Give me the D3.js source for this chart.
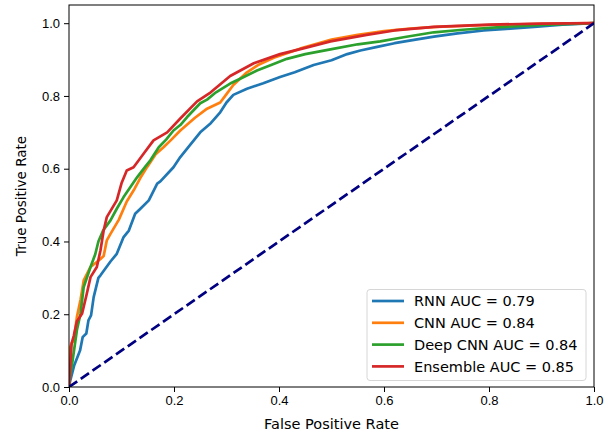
<!DOCTYPE html>
<html>
<head>
<meta charset="utf-8">
<script src="https://cdnjs.cloudflare.com/ajax/libs/d3/7.8.5/d3.min.js"></script>
<style>
  body { margin: 0; background: #fff; }
  svg { font-family: "DejaVu Sans", sans-serif; }
  .axis text { font-size: 13px; fill: #000; }
  .axis line, .axis path { stroke: #000; }
</style>
</head>
<body>
<svg id="roc" width="611" height="434"></svg>
<script>
// ROC curves: [fpr, tpr]
const rnn = [[0,0],[0.001,0.01],[0.01,0.06],[0.021,0.10],[0.026,0.137],[0.033,0.147],[0.037,0.183],
  [0.042,0.197],[0.047,0.247],[0.056,0.30],[0.060,0.307],[0.079,0.345],[0.091,0.366],[0.104,0.412],
  [0.114,0.43],[0.126,0.476],[0.136,0.49],[0.152,0.513],[0.168,0.559],[0.174,0.565],[0.199,0.604],
  [0.212,0.632],[0.225,0.655],[0.25,0.70],[0.27,0.725],[0.288,0.755],[0.30,0.782],[0.313,0.803],
  [0.339,0.82],[0.37,0.835],[0.402,0.852],[0.43,0.865],[0.466,0.885],[0.50,0.898],[0.53,0.915],
  [0.555,0.925],[0.587,0.935],[0.62,0.945],[0.66,0.955],[0.695,0.963],[0.74,0.972],[0.79,0.98],
  [0.84,0.985],[0.886,0.99],[0.94,0.996],[1,1]];
const cnn = [[0,0],[0,0.10],[0.005,0.12],[0.009,0.128],[0.015,0.192],[0.022,0.24],[0.028,0.293],
  [0.041,0.33],[0.06,0.352],[0.066,0.36],[0.072,0.403],[0.079,0.421],[0.095,0.46],[0.11,0.51],
  [0.125,0.545],[0.136,0.575],[0.149,0.605],[0.165,0.64],[0.18,0.659],[0.195,0.68],[0.212,0.705],
  [0.24,0.74],[0.263,0.765],[0.288,0.782],[0.30,0.805],[0.313,0.83],[0.339,0.865],[0.36,0.885],
  [0.39,0.905],[0.44,0.93],[0.50,0.955],[0.55,0.968],[0.60,0.978],[0.65,0.985],[0.70,0.99],
  [0.80,0.995],[0.90,0.998],[1,1]];
const deepCnn = [[0,0],[0.002,0.03],[0.006,0.064],[0.015,0.156],[0.022,0.202],[0.028,0.275],
  [0.041,0.33],[0.05,0.365],[0.056,0.40],[0.065,0.43],[0.079,0.458],[0.091,0.49],[0.104,0.522],
  [0.117,0.55],[0.13,0.577],[0.145,0.605],[0.155,0.623],[0.171,0.659],[0.185,0.68],[0.199,0.705],
  [0.212,0.72],[0.225,0.742],[0.25,0.78],[0.263,0.79],[0.28,0.81],[0.307,0.834],[0.33,0.85],
  [0.358,0.87],[0.385,0.885],[0.415,0.902],[0.45,0.915],[0.498,0.928],[0.55,0.942],[0.593,0.95],
  [0.64,0.962],[0.695,0.975],[0.75,0.982],[0.821,0.989],[0.9,0.995],[1,1]];
const ensemble = [[0,0],[0.002,0.05],[0.005,0.12],[0.009,0.14],[0.015,0.18],[0.025,0.202],
  [0.034,0.257],[0.041,0.302],[0.053,0.33],[0.06,0.376],[0.066,0.43],[0.072,0.467],[0.091,0.513],
  [0.10,0.56],[0.11,0.595],[0.123,0.604],[0.142,0.641],[0.161,0.678],[0.187,0.70],[0.212,0.738],
  [0.244,0.785],[0.27,0.81],[0.307,0.855],[0.352,0.89],[0.402,0.915],[0.45,0.932],[0.498,0.95],
  [0.567,0.968],[0.62,0.98],[0.695,0.99],[0.8,0.996],[0.9,0.999],[1,1]];
const chance = [[0,0],[1,1]];

const labels = ["RNN AUC = 0.79", "CNN AUC = 0.84", "Deep CNN AUC = 0.84", "Ensemble AUC = 0.85"];
const colors = ["#1f77b4", "#ff7f0e", "#2ca02c", "#d62728"];
const ticks = [0, 0.2, 0.4, 0.6, 0.8, 1.0];

const margin = {top: 5, right: 17, bottom: 47, left: 69};
const width = 611 - margin.left - margin.right;
const height = 434 - margin.top - margin.bottom;

const x = d3.scaleLinear().domain([0, 1]).range([0, width]);
const y = d3.scaleLinear().domain([0, 1.05]).range([height, 0]);

const svg = d3.select("#roc");
const g = svg.append("g").attr("transform", `translate(${margin.left},${margin.top})`);

g.append("clipPath").attr("id", "clip")
  .append("rect").attr("width", width).attr("height", height);

const line = d3.line().x(d => x(d[0])).y(d => y(d[1]));

// curves
const plot = g.append("g").attr("clip-path", "url(#clip)");
[rnn, cnn, deepCnn, ensemble].forEach((s, i) => {
  plot.append("path").datum(s)
    .attr("d", line)
    .attr("fill", "none")
    .attr("stroke", colors[i])
    .attr("stroke-width", 2.7)
    .attr("stroke-linejoin", "round");
});
plot.append("path").datum(chance)
  .attr("d", line)
  .attr("fill", "none")
  .attr("stroke", "#000080")
  .attr("stroke-width", 2.7)
  .attr("stroke-dasharray", "10,4.3");

// axes
g.append("g").attr("class", "axis")
  .attr("transform", `translate(0,${height})`)
  .call(d3.axisBottom(x).tickValues(ticks).tickFormat(d3.format(".1f")).tickSize(5).tickPadding(4))
  .call(a => a.select(".domain").remove())
  .call(a => a.selectAll("text").attr("font-family", null).attr("font-size", null));
g.append("g").attr("class", "axis")
  .call(d3.axisLeft(y).tickValues(ticks).tickFormat(d3.format(".1f")).tickSize(5).tickPadding(4))
  .call(a => a.select(".domain").remove())
  .call(a => a.selectAll("text").attr("font-family", null).attr("font-size", null));

// frame
g.append("rect").attr("width", width).attr("height", height)
  .attr("fill", "none").attr("stroke", "#000").attr("stroke-width", 1);

// axis titles
g.append("text")
  .attr("x", width / 2).attr("y", height + 42)
  .attr("text-anchor", "middle").attr("font-size", 14.5)
  .text("False Positive Rate");
g.append("text")
  .attr("transform", `translate(${-43.5},${height / 2}) rotate(-90)`)
  .attr("text-anchor", "middle").attr("font-size", 13.5)
  .text("True Positive Rate");

// legend
const lg = svg.append("g").attr("transform", "translate(367,289.5)");
lg.append("rect").attr("width", 219).attr("height", 91)
  .attr("rx", 3).attr("fill", "#fff").attr("fill-opacity", 0.8)
  .attr("stroke", "#d6d6d6").attr("stroke-width", 1);
labels.forEach((t, i) => {
  const ry = 11.5 + i * 21.8;
  lg.append("line").attr("x1", 5).attr("x2", 37).attr("y1", ry).attr("y2", ry)
    .attr("stroke", colors[i]).attr("stroke-width", 2.7);
  lg.append("text").attr("x", 47).attr("y", ry + 5.2)
    .attr("font-size", 14.5).text(t);
});
</script>
</body>
</html>
